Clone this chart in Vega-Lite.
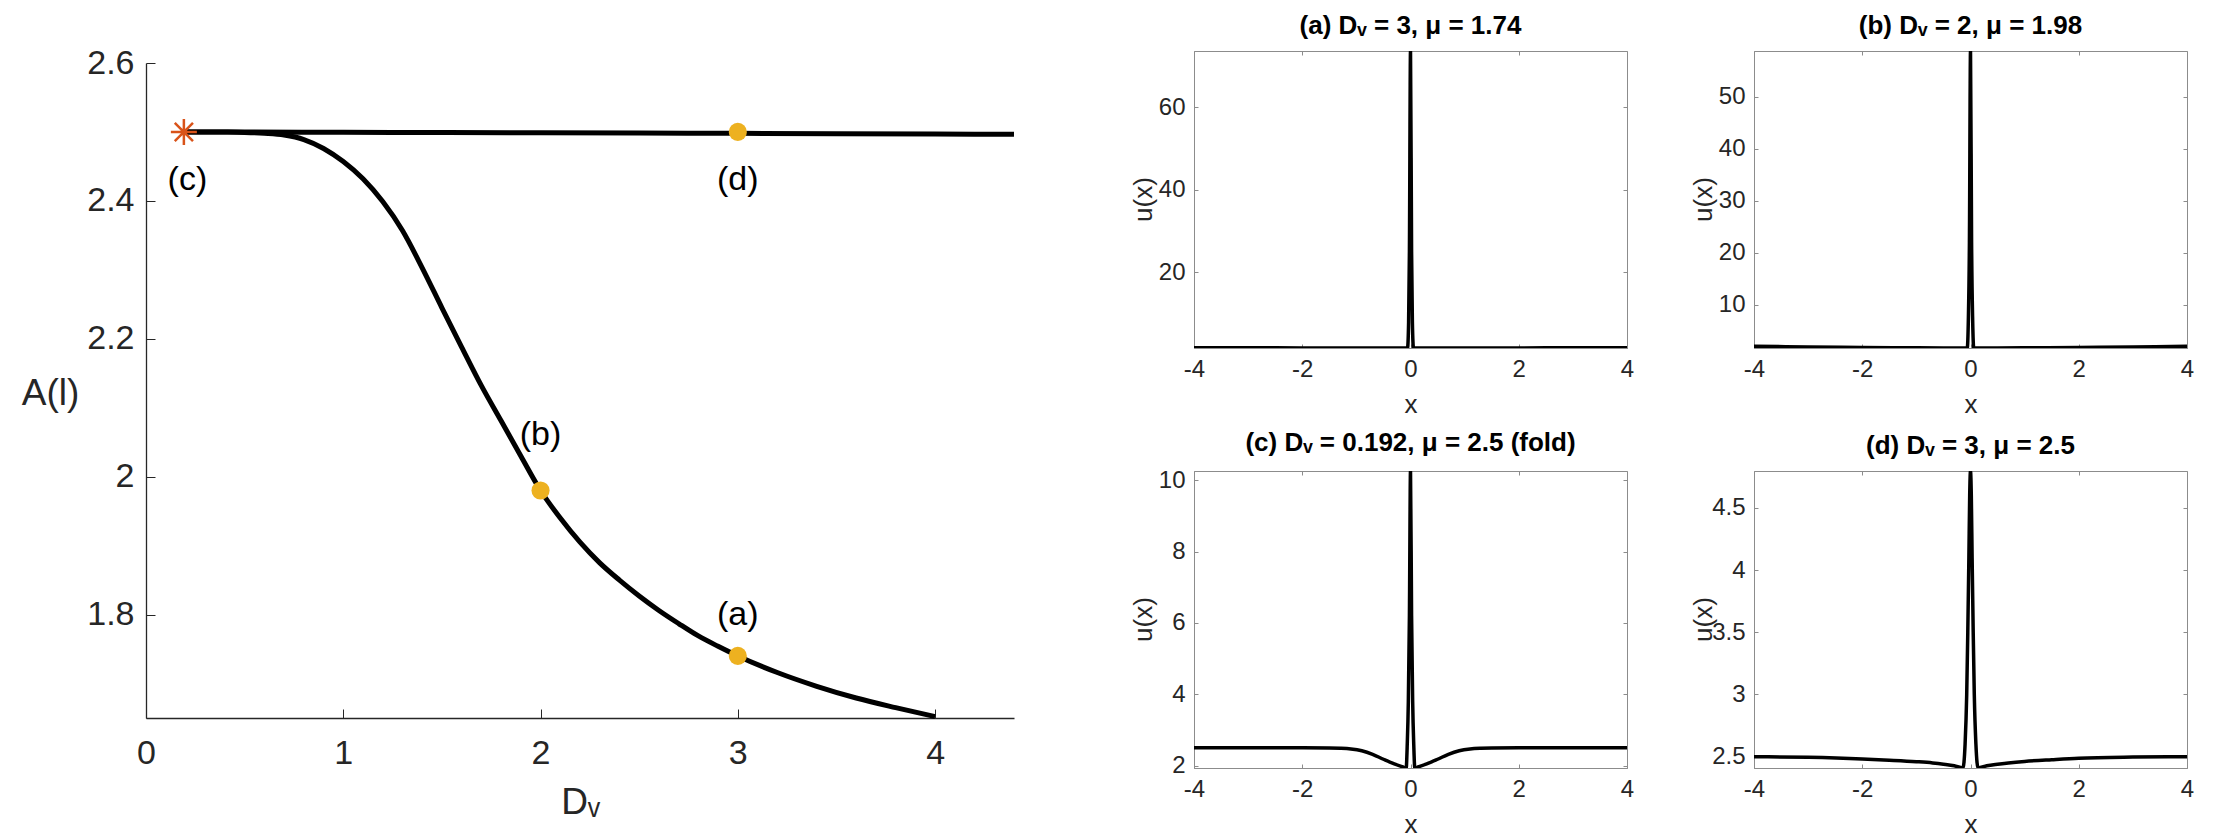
{
  "$schema": "https://vega.github.io/schema/vega-lite/v6.json",
  "padding": {"left": 21, "top": 12, "right": 5, "bottom": 5},
  "background": "white",
  "bounds": "flush",
  "spacing": 180,
  "datasets": {
    "branches": [
      {"branch": "upper", "Dv": 0.192, "A": 2.5},
      {"branch": "upper", "Dv": 0.5, "A": 2.4999},
      {"branch": "upper", "Dv": 1.0, "A": 2.4995},
      {"branch": "upper", "Dv": 1.5, "A": 2.4992},
      {"branch": "upper", "Dv": 2.0, "A": 2.4988},
      {"branch": "upper", "Dv": 2.5, "A": 2.4984},
      {"branch": "upper", "Dv": 3.0, "A": 2.498},
      {"branch": "upper", "Dv": 3.5, "A": 2.4975},
      {"branch": "upper", "Dv": 4.0, "A": 2.497},
      {"branch": "upper", "Dv": 4.4, "A": 2.4966},
      {"branch": "lower", "Dv": 0.192, "A": 2.5},
      {"branch": "lower", "Dv": 0.3, "A": 2.5},
      {"branch": "lower", "Dv": 0.4, "A": 2.4998},
      {"branch": "lower", "Dv": 0.5, "A": 2.4993},
      {"branch": "lower", "Dv": 0.6, "A": 2.498},
      {"branch": "lower", "Dv": 0.7, "A": 2.4955},
      {"branch": "lower", "Dv": 0.8, "A": 2.489},
      {"branch": "lower", "Dv": 0.9, "A": 2.476},
      {"branch": "lower", "Dv": 1.0, "A": 2.457},
      {"branch": "lower", "Dv": 1.1, "A": 2.432},
      {"branch": "lower", "Dv": 1.2, "A": 2.399},
      {"branch": "lower", "Dv": 1.3, "A": 2.357},
      {"branch": "lower", "Dv": 1.4, "A": 2.303},
      {"branch": "lower", "Dv": 1.5, "A": 2.245},
      {"branch": "lower", "Dv": 1.6, "A": 2.188},
      {"branch": "lower", "Dv": 1.7, "A": 2.132},
      {"branch": "lower", "Dv": 1.8, "A": 2.081},
      {"branch": "lower", "Dv": 1.9, "A": 2.03},
      {"branch": "lower", "Dv": 2.0, "A": 1.98},
      {"branch": "lower", "Dv": 2.1, "A": 1.94},
      {"branch": "lower", "Dv": 2.2, "A": 1.905},
      {"branch": "lower", "Dv": 2.3, "A": 1.875},
      {"branch": "lower", "Dv": 2.4, "A": 1.85},
      {"branch": "lower", "Dv": 2.5, "A": 1.827},
      {"branch": "lower", "Dv": 2.6, "A": 1.806},
      {"branch": "lower", "Dv": 2.7, "A": 1.787},
      {"branch": "lower", "Dv": 2.8, "A": 1.769},
      {"branch": "lower", "Dv": 2.9, "A": 1.754},
      {"branch": "lower", "Dv": 3.0, "A": 1.74},
      {"branch": "lower", "Dv": 3.2, "A": 1.716},
      {"branch": "lower", "Dv": 3.4, "A": 1.696},
      {"branch": "lower", "Dv": 3.6, "A": 1.679},
      {"branch": "lower", "Dv": 3.8, "A": 1.665},
      {"branch": "lower", "Dv": 4.0, "A": 1.652}
    ],
    "points": [
      {"Dv": 2.0, "A": 1.98},
      {"Dv": 3.0, "A": 1.74},
      {"Dv": 3.0, "A": 2.5}
    ],
    "star": [{"Dv": 0.192, "A": 2.5}],
    "labels": [
      {"Dv": 0.21, "A": 2.43, "label": "(c)"},
      {"Dv": 3.0, "A": 2.43, "label": "(d)"},
      {"Dv": 2.0, "A": 2.06, "label": "(b)"},
      {"Dv": 3.0, "A": 1.8, "label": "(a)"}
    ],
    "pa": [
      {"x": -4, "u": 1.74}, {"x": -3, "u": 1.735}, {"x": -2, "u": 1.728}, {"x": -1, "u": 1.718},
      {"x": -0.5, "u": 1.71}, {"x": -0.2, "u": 1.703}, {"x": -0.055, "u": 1.7}, {"x": -0.035, "u": 8},
      {"x": -0.02, "u": 25}, {"x": 0, "u": 73.6}, {"x": 0.02, "u": 25}, {"x": 0.035, "u": 8},
      {"x": 0.055, "u": 1.7}, {"x": 0.2, "u": 1.703}, {"x": 0.5, "u": 1.71}, {"x": 1, "u": 1.718},
      {"x": 2, "u": 1.728}, {"x": 3, "u": 1.735}, {"x": 4, "u": 1.74}
    ],
    "pb": [
      {"x": -4, "u": 1.98}, {"x": -3, "u": 1.86}, {"x": -2, "u": 1.76}, {"x": -1, "u": 1.69},
      {"x": -0.5, "u": 1.665}, {"x": -0.2, "u": 1.655}, {"x": -0.06, "u": 1.65}, {"x": -0.04, "u": 7},
      {"x": -0.02, "u": 22}, {"x": 0, "u": 58.86}, {"x": 0.02, "u": 22}, {"x": 0.04, "u": 7},
      {"x": 0.06, "u": 1.65}, {"x": 0.2, "u": 1.655}, {"x": 0.5, "u": 1.665}, {"x": 1, "u": 1.69},
      {"x": 2, "u": 1.76}, {"x": 3, "u": 1.86}, {"x": 4, "u": 1.98}
    ],
    "pc": [
      {"x": -4, "u": 2.5}, {"x": -3, "u": 2.5}, {"x": -2, "u": 2.5}, {"x": -1.5, "u": 2.497},
      {"x": -1.3, "u": 2.49}, {"x": -1.1, "u": 2.47}, {"x": -0.9, "u": 2.42}, {"x": -0.7, "u": 2.32},
      {"x": -0.5, "u": 2.18}, {"x": -0.3, "u": 2.05}, {"x": -0.15, "u": 1.97}, {"x": -0.08, "u": 1.935},
      {"x": -0.06, "u": 2.6}, {"x": -0.04, "u": 3.8}, {"x": -0.02, "u": 6.2}, {"x": 0, "u": 10.26},
      {"x": 0.02, "u": 6.2}, {"x": 0.04, "u": 3.8}, {"x": 0.06, "u": 2.6}, {"x": 0.08, "u": 1.935},
      {"x": 0.15, "u": 1.97}, {"x": 0.3, "u": 2.05}, {"x": 0.5, "u": 2.18}, {"x": 0.7, "u": 2.32},
      {"x": 0.9, "u": 2.42}, {"x": 1.1, "u": 2.47}, {"x": 1.3, "u": 2.49}, {"x": 1.5, "u": 2.497},
      {"x": 2, "u": 2.5}, {"x": 3, "u": 2.5}, {"x": 4, "u": 2.5}
    ],
    "pd": [
      {"x": -4, "u": 2.5}, {"x": -3, "u": 2.495}, {"x": -2, "u": 2.482}, {"x": -1.5, "u": 2.472},
      {"x": -1, "u": 2.46}, {"x": -0.7, "u": 2.45}, {"x": -0.5, "u": 2.44}, {"x": -0.3, "u": 2.427},
      {"x": -0.14, "u": 2.409}, {"x": -0.1, "u": 2.6}, {"x": -0.07, "u": 3.0}, {"x": -0.05, "u": 3.5},
      {"x": -0.03, "u": 4.1}, {"x": -0.015, "u": 4.6}, {"x": 0, "u": 4.797}, {"x": 0.015, "u": 4.6},
      {"x": 0.03, "u": 4.1}, {"x": 0.05, "u": 3.5}, {"x": 0.07, "u": 3.0}, {"x": 0.1, "u": 2.6},
      {"x": 0.14, "u": 2.409}, {"x": 0.3, "u": 2.427}, {"x": 0.5, "u": 2.44}, {"x": 0.7, "u": 2.45},
      {"x": 1, "u": 2.462}, {"x": 1.5, "u": 2.476}, {"x": 2, "u": 2.488}, {"x": 3, "u": 2.497},
      {"x": 4, "u": 2.5}
    ]
  },
  "hconcat": [
    {
      "width": 868,
      "height": 667,
      "view": {"stroke": null},
      "layer": [
        {
          "data": {"name": "branches"},
          "mark": {"type": "line", "color": "black", "strokeWidth": 5, "interpolate": "monotone"},
          "encoding": {
            "x": {"field": "Dv", "type": "quantitative",
              "scale": {"domain": [0, 4.4], "nice": false, "zero": false},
              "axis": {"values": [0, 1, 2, 3, 4], "format": "~g", "title": "Dᵥ", "titleFontSize": 37, "titleY": 95, "titleBaseline": "alphabetic",
                "labelFontSize": 34, "tickSize": -9, "labelPadding": 27, "domainColor": "#262626", "tickColor": "#262626", "domainWidth": 1.3}},
            "y": {"field": "A", "type": "quantitative",
              "scale": {"domain": [1.65, 2.6], "range": [667, 12], "nice": false, "zero": false},
              "axis": {"values": [1.8, 2.0, 2.2, 2.4, 2.6], "format": "~g", "title": "A(l)", "titleAngle": 0, "titleX": -96, "titleY": 342,
                "titleAlign": "center", "titleBaseline": "middle", "titleFontSize": 37,
                "labelFontSize": 34, "tickSize": -9, "labelPadding": 21, "domainColor": "#262626", "tickColor": "#262626", "domainWidth": 1.3}},
            "detail": {"field": "branch"}
          }
        },
        {
          "data": {"name": "points"},
          "mark": {"type": "point", "filled": true, "color": "#EDB120", "size": 330, "opacity": 1},
          "encoding": {
            "x": {"field": "Dv", "type": "quantitative"},
            "y": {"field": "A", "type": "quantitative"}
          }
        },
        {
          "data": {"name": "star"},
          "mark": {"type": "point", "shape": "M0,-1L0,1M-1,0L1,0M-0.7,-0.7L0.7,0.7M-0.7,0.7L0.7,-0.7", "filled": false, "color": "#D95319", "strokeWidth": 2.5, "size": 676, "opacity": 1},
          "encoding": {
            "x": {"field": "Dv", "type": "quantitative"},
            "y": {"field": "A", "type": "quantitative"}
          }
        },
        {
          "data": {"name": "labels"},
          "mark": {"type": "text", "font": "Liberation Sans", "fontSize": 34, "color": "black", "baseline": "middle", "align": "center"},
          "encoding": {
            "x": {"field": "Dv", "type": "quantitative"},
            "y": {"field": "A", "type": "quantitative"},
            "text": {"field": "label"}
          }
        }
      ]
    },
    {
      "bounds": "flush",
      "columns": 2,
      "spacing": {"row": 123, "column": 127},
      "concat": [
        {
          "data": {"name": "pa"},
          "width": 433, "height": 297,
          "title": "(a) Dᵥ = 3, μ = 1.74",
          "layer": [
            {
              "mark": {"type": "line", "color": "black", "strokeWidth": 3.5, "clip": true, "interpolate": "monotone"},
              "encoding": {
                "x": {"field": "x", "type": "quantitative", "scale": {"domain": [-4, 4], "nice": false},
                  "axis": {"values": [-4, -2, 0, 2, 4], "labelExpr": "toString(datum.value)", "title": "x", "titleY": 64, "titleBaseline": "alphabetic",
                    "titleFontSize": 26, "labelFontSize": 24, "tickSize": -4, "labelPadding": 13}},
                "y": {"field": "u", "type": "quantitative", "scale": {"zero": false, "nice": false},
                  "axis": {"values": [20, 40, 60], "labelExpr": "toString(datum.value)", "title": "u(x)", "titleAngle": -90, "titleAlign": "center", "titleBaseline": "middle", "titleX": -51, "titleY": 148,
                    "titleFontSize": 26, "labelFontSize": 24, "tickSize": -4, "labelPadding": 13}}
              }
            },
            {
              "mark": {"type": "line", "opacity": 0},
              "encoding": {
                "x": {"field": "x", "type": "quantitative", "axis": {"orient": "top", "values": [-4, -2, 0, 2, 4], "labels": false, "title": null, "tickSize": -4, "domain": false}},
                "y": {"field": "u", "type": "quantitative", "axis": {"orient": "right", "values": [20, 40, 60], "labels": false, "title": null, "tickSize": -4, "domain": false}}
              }
            }
          ],
          "resolve": {"axis": {"x": "independent", "y": "independent"}}
        },
        {
          "data": {"name": "pb"},
          "width": 433, "height": 297,
          "title": "(b) Dᵥ = 2, μ = 1.98",
          "layer": [
            {
              "mark": {"type": "line", "color": "black", "strokeWidth": 3.5, "clip": true, "interpolate": "monotone"},
              "encoding": {
                "x": {"field": "x", "type": "quantitative", "scale": {"domain": [-4, 4], "nice": false},
                  "axis": {"values": [-4, -2, 0, 2, 4], "labelExpr": "toString(datum.value)", "title": "x", "titleY": 64, "titleBaseline": "alphabetic",
                    "titleFontSize": 26, "labelFontSize": 24, "tickSize": -4, "labelPadding": 13}},
                "y": {"field": "u", "type": "quantitative", "scale": {"zero": false, "nice": false},
                  "axis": {"values": [10, 20, 30, 40, 50], "labelExpr": "toString(datum.value)", "title": "u(x)", "titleAngle": -90, "titleAlign": "center", "titleBaseline": "middle", "titleX": -51, "titleY": 148,
                    "titleFontSize": 26, "labelFontSize": 24, "tickSize": -4, "labelPadding": 13}}
              }
            },
            {
              "mark": {"type": "line", "opacity": 0},
              "encoding": {
                "x": {"field": "x", "type": "quantitative", "axis": {"orient": "top", "values": [-4, -2, 0, 2, 4], "labels": false, "title": null, "tickSize": -4, "domain": false}},
                "y": {"field": "u", "type": "quantitative", "axis": {"orient": "right", "values": [10, 20, 30, 40, 50], "labels": false, "title": null, "tickSize": -4, "domain": false}}
              }
            }
          ],
          "resolve": {"axis": {"x": "independent", "y": "independent"}}
        },
        {
          "data": {"name": "pc"},
          "width": 433, "height": 297,
          "title": "(c) Dᵥ = 0.192, μ = 2.5 (fold)",
          "layer": [
            {
              "mark": {"type": "line", "color": "black", "strokeWidth": 3.5, "clip": true, "interpolate": "monotone"},
              "encoding": {
                "x": {"field": "x", "type": "quantitative", "scale": {"domain": [-4, 4], "nice": false},
                  "axis": {"values": [-4, -2, 0, 2, 4], "labelExpr": "toString(datum.value)", "title": "x", "titleY": 64, "titleBaseline": "alphabetic",
                    "titleFontSize": 26, "labelFontSize": 24, "tickSize": -4, "labelPadding": 13}},
                "y": {"field": "u", "type": "quantitative", "scale": {"zero": false, "nice": false},
                  "axis": {"values": [2, 4, 6, 8, 10], "labelExpr": "toString(datum.value)", "title": "u(x)", "titleAngle": -90, "titleAlign": "center", "titleBaseline": "middle", "titleX": -51, "titleY": 148,
                    "titleFontSize": 26, "labelFontSize": 24, "tickSize": -4, "labelPadding": 13}}
              }
            },
            {
              "mark": {"type": "line", "opacity": 0},
              "encoding": {
                "x": {"field": "x", "type": "quantitative", "axis": {"orient": "top", "values": [-4, -2, 0, 2, 4], "labels": false, "title": null, "tickSize": -4, "domain": false}},
                "y": {"field": "u", "type": "quantitative", "axis": {"orient": "right", "values": [2, 4, 6, 8, 10], "labels": false, "title": null, "tickSize": -4, "domain": false}}
              }
            }
          ],
          "resolve": {"axis": {"x": "independent", "y": "independent"}}
        },
        {
          "data": {"name": "pd"},
          "width": 433, "height": 297,
          "title": "(d) Dᵥ = 3, μ = 2.5",
          "layer": [
            {
              "mark": {"type": "line", "color": "black", "strokeWidth": 3.5, "clip": true, "interpolate": "monotone"},
              "encoding": {
                "x": {"field": "x", "type": "quantitative", "scale": {"domain": [-4, 4], "nice": false},
                  "axis": {"values": [-4, -2, 0, 2, 4], "labelExpr": "toString(datum.value)", "title": "x", "titleY": 64, "titleBaseline": "alphabetic",
                    "titleFontSize": 26, "labelFontSize": 24, "tickSize": -4, "labelPadding": 13}},
                "y": {"field": "u", "type": "quantitative", "scale": {"zero": false, "nice": false},
                  "axis": {"values": [2.5, 3, 3.5, 4, 4.5], "labelExpr": "toString(datum.value)", "title": "u(x)", "titleAngle": -90, "titleAlign": "center", "titleBaseline": "middle", "titleX": -51, "titleY": 148,
                    "titleFontSize": 26, "labelFontSize": 24, "tickSize": -4, "labelPadding": 13}}
              }
            },
            {
              "mark": {"type": "line", "opacity": 0},
              "encoding": {
                "x": {"field": "x", "type": "quantitative", "axis": {"orient": "top", "values": [-4, -2, 0, 2, 4], "labels": false, "title": null, "tickSize": -4, "domain": false}},
                "y": {"field": "u", "type": "quantitative", "axis": {"orient": "right", "values": [2.5, 3, 3.5, 4, 4.5], "labels": false, "title": null, "tickSize": -4, "domain": false}}
              }
            }
          ],
          "resolve": {"axis": {"x": "independent", "y": "independent"}}
        }
      ]
    }
  ],
  "config": {
    "view": {"stroke": "#8c8c8c", "strokeWidth": 1},
    "font": "Liberation Sans",
    "axis": {"grid": false, "labelFont": "Liberation Sans", "titleFont": "Liberation Sans", "labelColor": "#262626", "titleColor": "#262626",
      "titleFontWeight": "normal", "labelFlush": false, "labelOverlap": false, "domainColor": "#8c8c8c", "tickColor": "#8c8c8c"},
    "title": {"font": "Liberation Sans", "fontSize": 26, "fontWeight": "bold", "color": "black", "offset": 12, "anchor": "middle"}
  }
}
